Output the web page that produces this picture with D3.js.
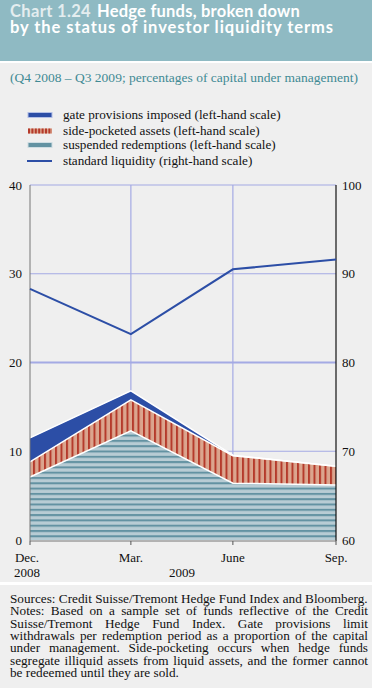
<!DOCTYPE html>
<html>
<head>
<meta charset="utf-8">
<script src="https://cdn.jsdelivr.net/npm/d3@7"></script>
<style>
html,body{margin:0;padding:0;background:#efefef;}
svg{display:block;}
</style>
</head>
<body>
<svg id="chart" width="372" height="688"></svg>
<script>
// ---- data ----
const dates = ["2008-12-31", "2009-03-31", "2009-06-30", "2009-09-30"];
const monthLabels = ["Dec.", "Mar.", "June", "Sep."];
const yearLabels = [{label: "2008", at: 0}, {label: "2009", at: 1.5}];
const suspendedRedemptions = [7.1, 12.3, 6.4, 6.2];
const sidePocketed = [1.7, 3.5, 3.1, 2.1];
const gateProvisions = [2.7, 1.0, 0.05, 0.0];
const standardLiquidity = [88.3, 83.2, 90.5, 91.6];
const leftTicks = [0, 10, 20, 30, 40];
const rightTicks = [60, 70, 80, 90, 100];
const legendLabels = [
  "gate provisions imposed (left-hand scale)",
  "side-pocketed assets (left-hand scale)",
  "suspended redemptions (left-hand scale)",
  "standard liquidity (right-hand scale)"
];
const titleLine1a = "Chart 1.24";
const titleLine1b = "Hedge funds, broken down";
const titleLine2 = "by the status of investor liquidity terms";
const subtitle = "(Q4 2008 \u2013 Q3 2009; percentages of capital under management)";
const footSources = "Sources: Credit Suisse/Tremont Hedge Fund Index and Bloomberg.";
const footNotes = [
  "Notes: Based on a sample set of funds reflective of the Credit",
  "Suisse/Tremont Hedge Fund Index. Gate provisions limit",
  "withdrawals per redemption period as a proportion of the capital",
  "under management. Side-pocketing occurs when hedge funds",
  "segregate illiquid assets from liquid assets, and the former cannot",
  "be redeemed until they are sold."
];

// ---- layout ----
const svg = d3.select("#chart");
const W = 372, H = 688;
const plot = {left: 30, right: 336, top: 185, bottom: 540};
const serif = "'Liberation Serif', 'Times New Roman', serif";
const sans = "Lato, 'Open Sans', sans-serif";
const col = {
  blue: "#2c4ea6", red: "#b53a2b", salmon: "#dba58e",
  tealDark: "#6392a2", tealLight: "#b8ccd4", grid: "#a4aae4"
};

svg.append("rect").attr("width", W).attr("height", H).attr("fill", "#efefef");
// header
svg.append("rect").attr("x", 0).attr("y", 0).attr("width", W).attr("height", 61).attr("fill", "#8fbac3");
svg.append("rect").attr("x", 0).attr("y", 61).attr("width", W).attr("height", 2).attr("fill", "#ffffff");

function measure(txt, family, size, weight) {
  const t = svg.append("text").attr("font-family", family).attr("font-size", size)
    .attr("font-weight", weight || "normal").text(txt);
  const w = t.node().getComputedTextLength(); t.remove(); return w;
}
const tSize = 16.5;
const title = svg.append("text").attr("font-family", sans).attr("font-weight", "bold")
  .attr("font-size", tSize).attr("fill", "#ffffff");
[[titleLine1a, 10, 17, 81, "#e4edef"], [titleLine1b, 97, 17, 203, "#ffffff"], [titleLine2, 10, 33, 324, "#ffffff"]]
  .forEach(([txt, tx, ty, target, fill]) => {
    const w = measure(txt, sans, tSize, "bold");
    title.append("tspan").attr("x", tx).attr("y", ty).attr("fill", fill)
      .style("letter-spacing", ((target - w) / txt.length) + "px").text(txt);
  });

const st = svg.append("text").attr("x", 10).attr("y", 82)
  .attr("font-family", serif).attr("font-size", 13.5).attr("fill", "#3f8a94").text(subtitle);
st.attr("letter-spacing", (348 - st.node().getComputedTextLength()) / subtitle.length);

// ---- patterns ----
const defs = svg.append("defs");
const pH = defs.append("pattern").attr("id", "hstripe").attr("patternUnits", "userSpaceOnUse")
  .attr("width", 10).attr("height", 5.3);
pH.append("rect").attr("width", 10).attr("height", 5.3).attr("fill", col.tealLight);
pH.append("rect").attr("y", 0).attr("width", 10).attr("height", 2).attr("fill", col.tealDark);
const pV = defs.append("pattern").attr("id", "vstripe").attr("patternUnits", "userSpaceOnUse")
  .attr("width", 5.5).attr("height", 10);
pV.append("rect").attr("width", 5.5).attr("height", 10).attr("fill", col.salmon);
pV.append("rect").attr("x", 0).attr("width", 2).attr("height", 10).attr("fill", col.red);

// ---- legend ----
const legY = [115, 131, 145, 161];
const lg = svg.append("g");
lg.append("rect").attr("x", 28).attr("y", legY[0] - 2.5).attr("width", 24).attr("height", 5)
  .attr("fill", col.blue).attr("stroke", "#b4c0e6").attr("stroke-width", 1);
lg.append("rect").attr("x", 28).attr("y", legY[1] - 2.5).attr("width", 24).attr("height", 5)
  .attr("fill", col.salmon);
lg.append("line").attr("x1", 28).attr("x2", 52).attr("y1", legY[1]).attr("y2", legY[1])
  .attr("stroke", col.red).attr("stroke-width", 5).attr("stroke-dasharray", "2,1.4");
lg.append("rect").attr("x", 28).attr("y", legY[2] - 2.5).attr("width", 24).attr("height", 5)
  .attr("fill", col.tealDark).attr("stroke", "#cfdde2").attr("stroke-width", 1);
lg.append("line").attr("x1", 27).attr("x2", 52).attr("y1", legY[3]).attr("y2", legY[3])
  .attr("stroke", col.blue).attr("stroke-width", 2);
legendLabels.forEach((t, i) => {
  lg.append("text").attr("x", 63).attr("y", legY[i] + 4)
    .attr("font-family", serif).attr("font-size", 13.2).attr("fill", "#111").text(t);
});

// ---- scales ----
const parse = d3.timeParse("%Y-%m-%d");
const dd = dates.map(parse);
const x = d3.scaleTime().domain([dd[0], dd[dd.length - 1]]).range([plot.left, plot.right]);
const yL = d3.scaleLinear().domain([0, 40]).range([plot.bottom, plot.top]);
const yR = d3.scaleLinear().domain([60, 100]).range([plot.bottom, plot.top]);

// gridlines
const g = svg.append("g");
leftTicks.slice(1).forEach(v => {
  g.append("line").attr("x1", plot.left).attr("x2", plot.right)
    .attr("y1", yL(v)).attr("y2", yL(v)).attr("stroke", col.grid)
    .attr("stroke-width", v === 20 ? 2 : 1.2);
});
dd.slice(1, -1).forEach(d => {
  g.append("line").attr("x1", x(d)).attr("x2", x(d)).attr("y1", plot.top).attr("y2", plot.bottom)
    .attr("stroke", col.grid).attr("stroke-width", 1.2);
});

// stacked areas
const rows = dates.map((d, i) => ({date: dd[i], susp: suspendedRedemptions[i], side: sidePocketed[i], gate: gateProvisions[i]}));
const stack = d3.stack().keys(["susp", "side", "gate"])(rows);
const fills = {susp: "url(#hstripe)", side: "url(#vstripe)", gate: col.blue};
const area = d3.area().x(d => x(d.data.date)).y0(d => yL(d[0])).y1(d => yL(d[1]));
const topLine = d3.line().x(d => x(d.data.date)).y(d => yL(d[1]));
stack.forEach(s => {
  svg.append("path").datum(s).attr("d", area).attr("fill", fills[s.key]);
});
stack.forEach(s => {
  svg.append("path").datum(s).attr("d", topLine).attr("fill", "none")
    .attr("stroke", "#ffffff").attr("stroke-width", 1.5);
});

// axes
svg.append("line").attr("x1", plot.left).attr("x2", plot.left).attr("y1", plot.top).attr("y2", plot.bottom + 1)
  .attr("stroke", "#777").attr("stroke-width", 1);
svg.append("line").attr("x1", plot.right).attr("x2", plot.right).attr("y1", plot.top).attr("y2", plot.bottom + 1)
  .attr("stroke", "#111").attr("stroke-width", 1.2);
svg.append("line").attr("x1", plot.left).attr("x2", plot.right).attr("y1", plot.bottom + 1).attr("y2", plot.bottom + 1)
  .attr("stroke", "#777").attr("stroke-width", 1);
dd.forEach(d => {
  svg.append("line").attr("x1", x(d)).attr("x2", x(d)).attr("y1", plot.bottom + 1).attr("y2", plot.bottom + 5)
    .attr("stroke", "#555").attr("stroke-width", 1);
});
leftTicks.forEach(v => {
  svg.append("text").attr("x", 22).attr("y", yL(v) + 4.5).attr("text-anchor", "end")
    .attr("font-family", serif).attr("font-size", 13).attr("fill", "#111").text(v);
});
rightTicks.forEach(v => {
  svg.append("text").attr("x", 342).attr("y", yR(v) + 4.5)
    .attr("font-family", serif).attr("font-size", 13).attr("fill", "#111").text(v);
});
monthLabels.forEach((t, i) => {
  const xx = i === 0 ? x(dd[0]) - 3 : x(dd[i]);
  svg.append("text").attr("x", xx).attr("y", 562).attr("text-anchor", "middle")
    .attr("font-family", serif).attr("font-size", 13).attr("fill", "#111").text(t);
});
yearLabels.forEach(y => {
  const i0 = Math.floor(y.at), f = y.at - i0;
  const xx = f ? x(dd[i0]) + (x(dd[i0 + 1]) - x(dd[i0])) * f : x(dd[i0]) - 3;
  svg.append("text").attr("x", xx).attr("y", 577).attr("text-anchor", "middle")
    .attr("font-family", serif).attr("font-size", 13).attr("fill", "#111").text(y.label);
});

// line (right scale)
svg.append("path").datum(standardLiquidity.map((v, i) => ({date: dd[i], v})))
  .attr("d", d3.line().x(d => x(d.date)).y(d => yR(d.v)))
  .attr("fill", "none").attr("stroke", col.blue).attr("stroke-width", 2);

// ---- footnote ----
svg.append("rect").attr("x", 0).attr("y", 582).attr("width", W).attr("height", 3).attr("fill", "#ffffff");
const fnX = 10, fnW = 358, fnLH = 12.3, fnY0 = 603;
const fnSize = 13 * 358 / measure(footSources, serif, 13);
const foot = svg.append("text").attr("font-family", serif).attr("font-size", fnSize).attr("fill", "#111");
function plainLine(txt, y) {
  foot.append("tspan").attr("x", fnX).attr("y", y).text(txt);
}
function justLine(txt, y) {
  const words = txt.split(" ");
  const widths = words.map(w => measure(w, serif, fnSize));
  const gap = (fnW - d3.sum(widths)) / (words.length - 1);
  let cx = fnX;
  words.forEach((w, i) => {
    foot.append("tspan").attr("x", cx).attr("y", y).text(w);
    cx += widths[i] + gap;
  });
}
plainLine(footSources, fnY0);
footNotes.forEach((l, i) => {
  const y = fnY0 + fnLH * (i + 1);
  if (i === footNotes.length - 1) plainLine(l, y); else justLine(l, y);
});
</script>
</body>
</html>
